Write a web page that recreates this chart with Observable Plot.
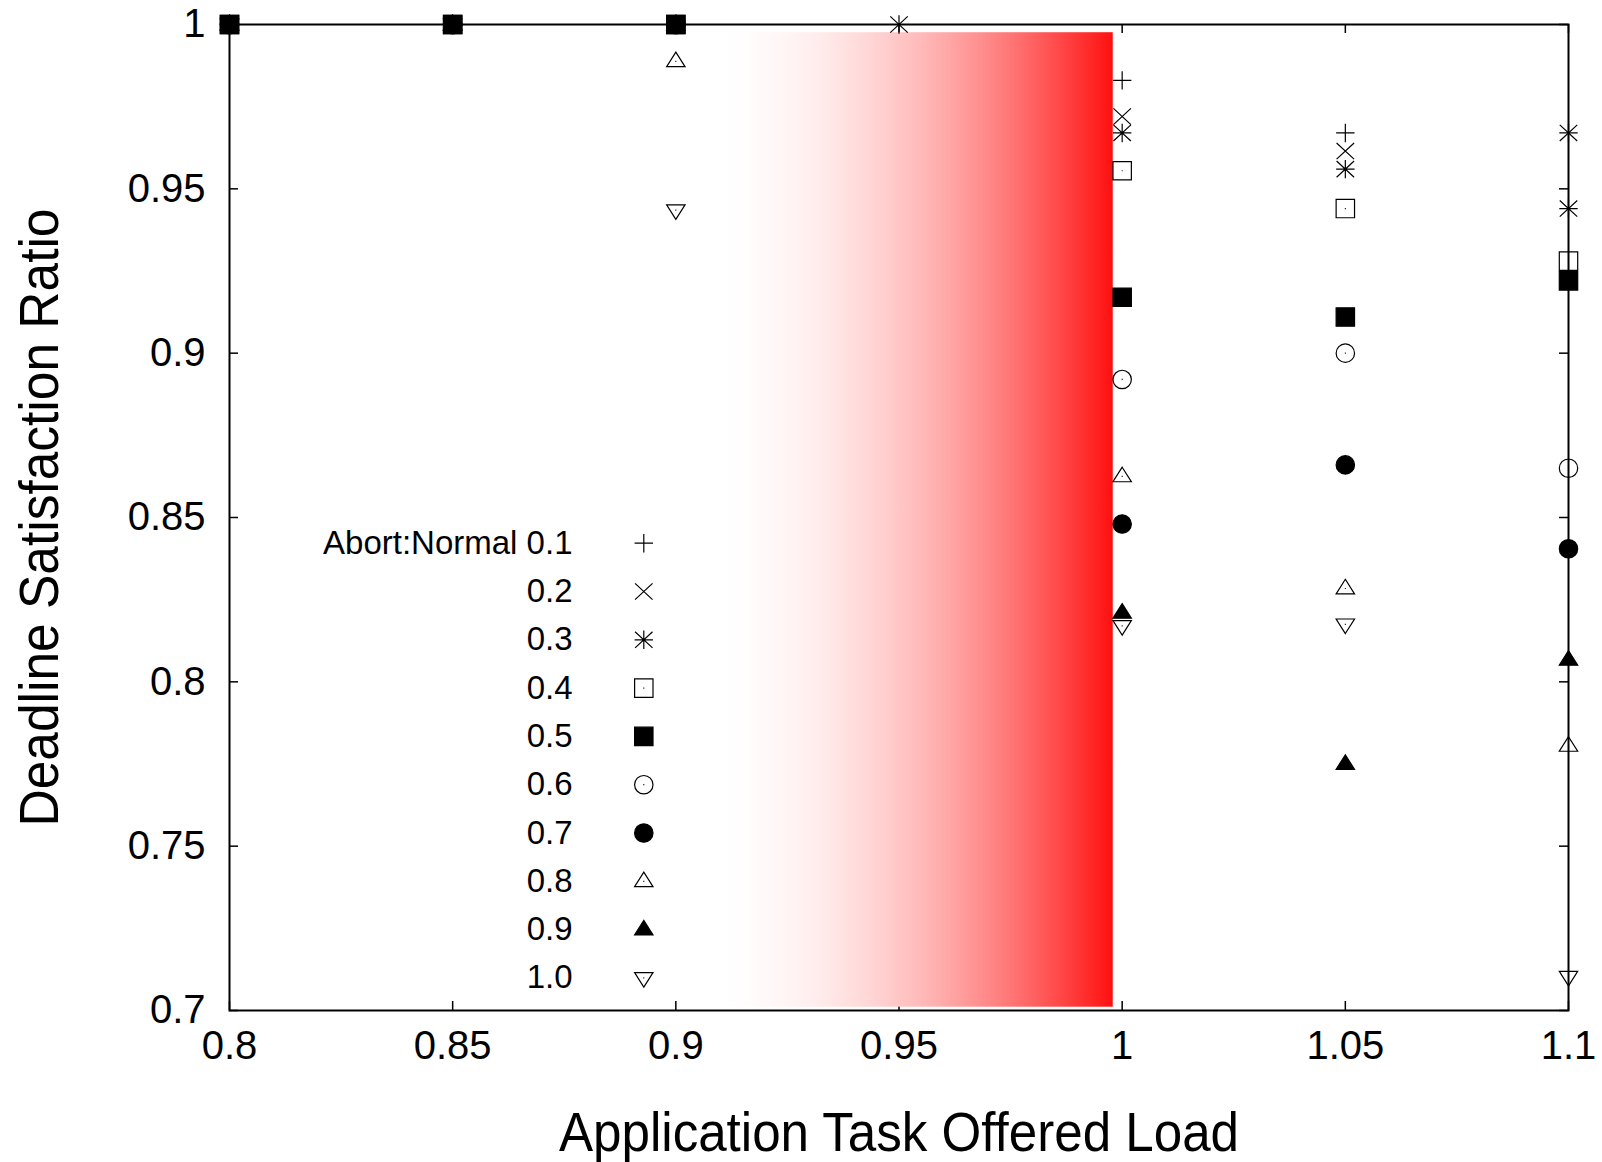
<!DOCTYPE html>
<html>
<head>
<meta charset="utf-8">
<script src="https://cdn.jsdelivr.net/npm/d3@7"></script>
<script src="https://cdn.jsdelivr.net/npm/@observablehq/plot@0.6"></script>
<style>
  html, body { margin: 0; padding: 0; background: #fff; }
  #chart svg { display: block; }
</style>
</head>
<body>
<div id="chart"></div>
<script>
// ---------------- data ----------------
const loads = [0.8, 0.85, 0.9, 0.95, 1.0, 1.05, 1.1];
const seriesNames = ["0.1", "0.2", "0.3", "0.4", "0.5", "0.6", "0.7", "0.8", "0.9", "1.0"];
const legendLabels = ["Abort:Normal 0.1", "0.2", "0.3", "0.4", "0.5", "0.6", "0.7", "0.8", "0.9", "1.0"];

const ratio01 = [1, 1, 1,      null, 0.983,  0.967,  0.967];
const ratio02 = [1, 1, 1,      null, 0.972,  0.9615, 0.967];
const ratio03 = [1, 1, 1,      1,    0.967,  0.956,  0.944];
const ratio04 = [1, 1, 1,      null, 0.9555, 0.944,  0.928];
const ratio05 = [1, 1, 1,      null, 0.917,  0.911,  0.922];
const ratio06 = [1, 1, 1,      null, 0.892,  0.900,  0.865];
const ratio07 = [1, 1, 1,      null, 0.848,  0.866,  0.8405];
const ratio08 = [1, 1, 0.9888, null, 0.8625, 0.8284, 0.7805];
const ratio09 = [1, 1, 1,      null, 0.821,  0.775,  0.8067];
const ratio10 = [1, 1, 0.9435, null, 0.817,  0.8175, 0.7103];
const allRatios = [ratio01, ratio02, ratio03, ratio04, ratio05, ratio06, ratio07, ratio08, ratio09, ratio10];

const xTicks = [0.8, 0.85, 0.9, 0.95, 1.0, 1.05, 1.1];
const yTicks = [0.7, 0.75, 0.8, 0.85, 0.9, 0.95, 1.0];

// shaded overload band (data space)
const shadeLoad = [0.908, 0.998];
const shadeRatio = [0.701, 0.9975];

const xTitle = "Application Task Offered Load";
const yTitle = "Deadline Satisfaction Ratio";

// ---------------- layout ----------------
const W = 1602, H = 1162;
const mL = 229, mR = 34, mT = 24, mB = 152;
const iw = W - mL - mR, ih = H - mT - mB;
const tickLen = 9;
const FONT = "'Liberation Sans', Arial, Helvetica, sans-serif";

// ---------------- gnuplot-like symbols ----------------
const sym = (fn) => ({draw(ctx, size) { const r = Math.sqrt(size / Math.PI); fn(ctx, r); }});
const centerDot = (ctx) => { ctx.moveTo(-0.5, 0); ctx.lineTo(0.5, 0); };
const plusP = (c, r) => { c.moveTo(-r, 0); c.lineTo(r, 0); c.moveTo(0, -r); c.lineTo(0, r); };
const timesP = (c, r) => { const k = r * 0.95, j = r * 0.88; c.moveTo(-k, -j); c.lineTo(k, j); c.moveTo(-k, j); c.lineTo(k, -j); };
const symbols = [
  sym((c, r) => plusP(c, r)),
  sym((c, r) => timesP(c, r)),
  sym((c, r) => { plusP(c, r); timesP(c, r); }),
  sym((c, r) => { c.rect(-r, -r, 2 * r, 2 * r); centerDot(c); }),
  sym((c, r) => { c.rect(-r, -r, 2 * r, 2 * r); }),
  sym((c, r) => { c.moveTo(r, 0); c.arc(0, 0, r, 0, 2 * Math.PI); c.closePath(); centerDot(c); }),
  sym((c, r) => { c.moveTo(r, 0); c.arc(0, 0, r, 0, 2 * Math.PI); c.closePath(); }),
  sym((c, r) => { c.moveTo(0, -r); c.lineTo(r, 0.58 * r); c.lineTo(-r, 0.58 * r); c.closePath(); centerDot(c); }),
  sym((c, r) => { c.moveTo(0, -r); c.lineTo(r, 0.58 * r); c.lineTo(-r, 0.58 * r); c.closePath(); }),
  sym((c, r) => { c.moveTo(0, r); c.lineTo(r, -0.58 * r); c.lineTo(-r, -0.58 * r); c.closePath(); centerDot(c); })
];
const filled = [false, false, false, false, true, false, true, false, true, false];
const R = 9.2, SW = 1.2;

const fmt = d => String(+d.toFixed(2));

// data point marks
const dotMarks = seriesNames.map((s, k) =>
  Plot.dot(loads.map((x, i) => ({load: x, ratio: allRatios[k][i], series: s})), {
    x: "load", y: "ratio", symbol: symbols[k], r: R,
    fill: filled[k] ? "black" : "none", stroke: "black", strokeWidth: SW
  })
);

// legend (pixel layout)
const legTextX = 572, legSymX = 643.3, legY0 = 542.7, legStep = 48.3;
const legendMarks = seriesNames.flatMap((s, k) => [
  Plot.text([legendLabels[k]], {
    text: d => d, frameAnchor: "top-left", dx: legTextX - mL, dy: legY0 + k * legStep - mT,
    textAnchor: "end", lineAnchor: "middle", fontSize: 33, fill: "black"
  }),
  Plot.dot([s], {
    frameAnchor: "top-left", dx: legSymX - mL, dy: legY0 + k * legStep - mT,
    symbol: symbols[k], r: R, fill: filled[k] ? "black" : "none", stroke: "black", strokeWidth: SW
  })
]);

const chart = Plot.plot({
  width: W, height: H,
  marginLeft: mL, marginRight: mR, marginTop: mT, marginBottom: mB,
  style: {fontFamily: FONT, fontSize: "40px", background: "white", color: "black", overflow: "visible"},
  x: {domain: [0.8, 1.1]},
  y: {domain: [0.7, 1.0]},
  marks: [
    // inward ticks on all four sides
    Plot.ruleX(xTicks, {x: d => d, insetTop: ih - tickLen, stroke: "black", strokeWidth: 1.5}),
    Plot.ruleX(xTicks, {x: d => d, insetBottom: ih - tickLen, stroke: "black", strokeWidth: 1.5}),
    Plot.ruleY(yTicks, {y: d => d, insetRight: iw - tickLen, stroke: "black", strokeWidth: 1.5}),
    Plot.ruleY(yTicks, {y: d => d, insetLeft: iw - tickLen, stroke: "black", strokeWidth: 1.5}),
    // gradient band
    Plot.rect([{x1: shadeLoad[0], x2: shadeLoad[1], y1: shadeRatio[0], y2: shadeRatio[1]}],
      {x1: "x1", x2: "x2", y1: "y1", y2: "y2", fill: "url(#redfade)"}),
    Plot.frame({stroke: "black", strokeWidth: 2}),
    Plot.axisX({ticks: xTicks, tickSize: 0, tickPadding: 20, tickFormat: fmt, label: null, fontSize: 40}),
    Plot.axisY({ticks: yTicks, tickSize: 0, tickPadding: 24, tickFormat: fmt, label: null, fontSize: 40}),
    ...dotMarks,
    ...legendMarks,
    Plot.text([xTitle], {text: d => d, frameAnchor: "bottom", dy: 123, textAnchor: "middle", lineAnchor: "middle", fontSize: 56, fill: "black"}),
    Plot.text([yTitle], {text: d => d, frameAnchor: "left", dx: -189, rotate: -90, textAnchor: "middle", lineAnchor: "middle", fontSize: 56, fill: "black"})
  ]
});

// gradient definition
const ns = "http://www.w3.org/2000/svg";
const defs = document.createElementNS(ns, "defs");
const grad = document.createElementNS(ns, "linearGradient");
grad.setAttribute("id", "redfade");
grad.setAttribute("x1", "0"); grad.setAttribute("x2", "1");
grad.setAttribute("y1", "0"); grad.setAttribute("y2", "0");
for (let i = 0; i <= 20; i++) {
  const t = i / 20;
  const a = 0.94 * Math.pow(t, 1.9);
  const g = Math.round(255 * (1 - a));
  const stop = document.createElementNS(ns, "stop");
  stop.setAttribute("offset", t);
  stop.setAttribute("stop-color", `rgb(255,${g},${g})`);
  grad.appendChild(stop);
}
defs.appendChild(grad);
chart.insertBefore(defs, chart.firstChild);

// slightly condensed axis titles, as in the original
d3.select(chart).selectAll("text").each(function() {
  const t = this.textContent;
  if (t === xTitle) { this.setAttribute("textLength", 680); this.setAttribute("lengthAdjust", "spacingAndGlyphs"); }
  if (t === yTitle) { this.setAttribute("textLength", 618); this.setAttribute("lengthAdjust", "spacingAndGlyphs"); }
});

document.getElementById("chart").appendChild(chart);
</script>
</body>
</html>
